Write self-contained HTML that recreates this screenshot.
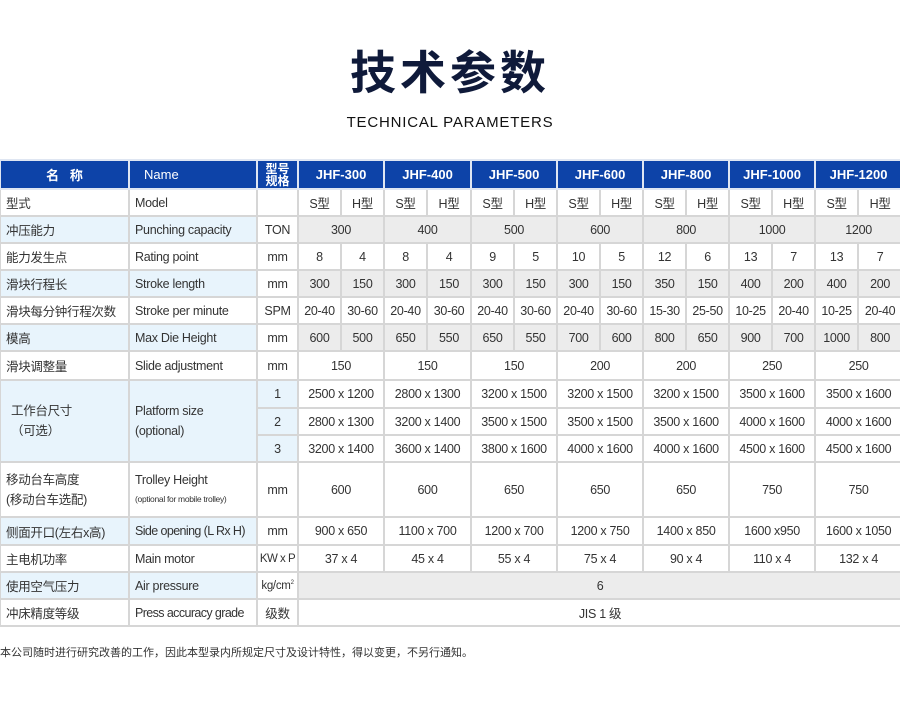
<!DOCTYPE html>
<html><head><meta charset="utf-8"><style>
body{margin:0;width:900px;height:708px;background:#fff;font-family:"Liberation Sans","Noto Sans CJK SC",sans-serif;position:relative;overflow:hidden;color:#333}
.t1{position:absolute;top:40px;left:0;width:900px;text-align:center;font-size:46px;font-weight:bold;color:#0f1a3a;font-family:"Noto Sans CJK SC",sans-serif;letter-spacing:4px;line-height:60px}
.t2{position:absolute;top:114px;left:0;width:900px;text-align:center;font-size:15px;color:#111;letter-spacing:0.8px}
table{position:absolute;top:159px;left:-1px;border-collapse:collapse;table-layout:fixed;width:902px;font-size:12.5px;letter-spacing:-0.3px}
td{border:2px solid #d6d6d6;text-align:center;padding:0;white-space:nowrap;overflow:hidden}
tr{height:27px}
.h td{background:#0d43a8;color:#fff;font-weight:bold;border-color:#dfe6f2;height:27px;font-size:13px;letter-spacing:0}
.l{text-align:left;padding-left:5px}
.b{background:#e8f4fc}
.g{background:#ececec}
.note{position:absolute;top:644px;left:0;font-size:11px;color:#333;font-family:"Noto Sans CJK SC",sans-serif}
</style></head><body>
<div class="t1">技术参数</div>
<div class="t2">TECHNICAL PARAMETERS</div>
<table>
<colgroup><col style="width:129px"><col style="width:128px"><col style="width:41px">
<col style="width:43px"><col style="width:43px"><col style="width:43px"><col style="width:44px"><col style="width:43px"><col style="width:43px"><col style="width:43px"><col style="width:43px"><col style="width:43px"><col style="width:43px"><col style="width:43px"><col style="width:43px"><col style="width:43px"><col style="width:44px"></colgroup>
<tr class="h"><td>名&nbsp;&nbsp;&nbsp;称</td><td class="l" style="font-weight:normal;padding-left:14px">Name</td><td style="font-size:12px;line-height:12px">型号<br>规格</td><td colspan="2">JHF-300</td><td colspan="2">JHF-400</td><td colspan="2">JHF-500</td><td colspan="2">JHF-600</td><td colspan="2">JHF-800</td><td colspan="2">JHF-1000</td><td colspan="2">JHF-1200</td></tr>
<tr><td class="l">型式</td><td class="l">Model</td><td></td><td>S型</td><td>H型</td><td>S型</td><td>H型</td><td>S型</td><td>H型</td><td>S型</td><td>H型</td><td>S型</td><td>H型</td><td>S型</td><td>H型</td><td>S型</td><td>H型</td></tr>
<tr><td class="l b">冲压能力</td><td class="l b">Punching capacity</td><td>TON</td><td colspan="2" class="g">300</td><td colspan="2" class="g">400</td><td colspan="2" class="g">500</td><td colspan="2" class="g">600</td><td colspan="2" class="g">800</td><td colspan="2" class="g">1000</td><td colspan="2" class="g">1200</td></tr>
<tr><td class="l">能力发生点</td><td class="l">Rating point</td><td>mm</td><td>8</td><td>4</td><td>8</td><td>4</td><td>9</td><td>5</td><td>10</td><td>5</td><td>12</td><td>6</td><td>13</td><td>7</td><td>13</td><td>7</td></tr>
<tr><td class="l b">滑块行程长</td><td class="l b">Stroke length</td><td>mm</td><td class="g">300</td><td class="g">150</td><td class="g">300</td><td class="g">150</td><td class="g">300</td><td class="g">150</td><td class="g">300</td><td class="g">150</td><td class="g">350</td><td class="g">150</td><td class="g">400</td><td class="g">200</td><td class="g">400</td><td class="g">200</td></tr>
<tr><td class="l">滑块每分钟行程次数</td><td class="l">Stroke per minute</td><td>SPM</td><td>20-40</td><td>30-60</td><td>20-40</td><td>30-60</td><td>20-40</td><td>30-60</td><td>20-40</td><td>30-60</td><td>15-30</td><td>25-50</td><td>10-25</td><td>20-40</td><td>10-25</td><td>20-40</td></tr>
<tr><td class="l b">模高</td><td class="l b">Max Die Height</td><td>mm</td><td class="g">600</td><td class="g">500</td><td class="g">650</td><td class="g">550</td><td class="g">650</td><td class="g">550</td><td class="g">700</td><td class="g">600</td><td class="g">800</td><td class="g">650</td><td class="g">900</td><td class="g">700</td><td class="g">1000</td><td class="g">800</td></tr>
<tr style="height:29px"><td class="l">滑块调整量</td><td class="l">Slide adjustment</td><td>mm</td><td colspan="2">150</td><td colspan="2">150</td><td colspan="2">150</td><td colspan="2">200</td><td colspan="2">200</td><td colspan="2">250</td><td colspan="2">250</td></tr>
<tr style="height:28px"><td rowspan="3" class="l b" style="padding-left:10px;line-height:20px">工作台尺寸<br>（可选）</td><td rowspan="3" class="l b" style="line-height:20px">Platform size<br>(optional)</td><td class="b">1</td><td colspan="2">2500 x 1200</td><td colspan="2">2800 x 1300</td><td colspan="2">3200 x 1500</td><td colspan="2">3200 x 1500</td><td colspan="2">3200 x 1500</td><td colspan="2">3500 x 1600</td><td colspan="2">3500 x 1600</td></tr>
<tr><td class="b">2</td><td colspan="2">2800 x 1300</td><td colspan="2">3200 x 1400</td><td colspan="2">3500 x 1500</td><td colspan="2">3500 x 1500</td><td colspan="2">3500 x 1600</td><td colspan="2">4000 x 1600</td><td colspan="2">4000 x 1600</td></tr>
<tr><td class="b">3</td><td colspan="2">3200 x 1400</td><td colspan="2">3600 x 1400</td><td colspan="2">3800 x 1600</td><td colspan="2">4000 x 1600</td><td colspan="2">4000 x 1600</td><td colspan="2">4500 x 1600</td><td colspan="2">4500 x 1600</td></tr>
<tr style="height:55px"><td class="l" style="line-height:20px">移动台车高度<br>(移动台车选配)</td><td class="l" style="line-height:18px">Trolley Height<br><span style="font-size:8.5px">(optional for mobile trolley)</span></td><td>mm</td><td colspan="2">600</td><td colspan="2">600</td><td colspan="2">650</td><td colspan="2">650</td><td colspan="2">650</td><td colspan="2">750</td><td colspan="2">750</td></tr>
<tr style="height:28px"><td class="l b">侧面开口(左右x高)</td><td class="l b" style="letter-spacing:-0.6px">Side opening (L Rx H)</td><td>mm</td><td colspan="2">900 x 650</td><td colspan="2">1100 x 700</td><td colspan="2">1200 x 700</td><td colspan="2">1200 x 750</td><td colspan="2">1400 x 850</td><td colspan="2">1600 x950</td><td colspan="2">1600 x 1050</td></tr>
<tr><td class="l">主电机功率</td><td class="l">Main motor</td><td style="font-size:11.5px;letter-spacing:-0.5px">KW x P</td><td colspan="2">37 x 4</td><td colspan="2">45 x 4</td><td colspan="2">55 x 4</td><td colspan="2">75 x 4</td><td colspan="2">90 x 4</td><td colspan="2">110 x 4</td><td colspan="2">132 x 4</td></tr>
<tr><td class="l b">使用空气压力</td><td class="l b">Air pressure</td><td style="font-size:11.5px">kg/cm<sup style="font-size:6px">2</sup></td><td colspan="14" class="g">6</td></tr>
<tr><td class="l">冲床精度等级</td><td class="l" style="letter-spacing:-0.6px">Press accuracy grade</td><td>级数</td><td colspan="14">JIS 1 级</td></tr>
</table>
<div class="note">本公司随时进行研究改善的工作，因此本型录内所规定尺寸及设计特性，得以变更，不另行通知。</div>
</body></html>
